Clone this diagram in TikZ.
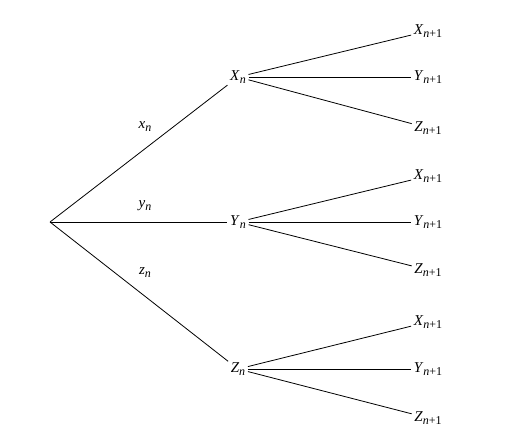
\documentclass[tikz,border=0pt]{standalone}
\usepackage{fontspec}
\setmainfont{Liberation Serif}
\newcommand\vsym[2]{\textit{#1}\raisebox{-3pt}{\fontsize{12}{14}\selectfont #2}}
\begin{document}
\begin{tikzpicture}[x=1pt,y=-1pt,
  lbl/.style={font=\fontsize{15}{17}\selectfont, inner sep=2.5pt},
  edge/.style={draw=black, line width=0.8pt}]
\useasboundingbox (0,0) rectangle (514,440);
\coordinate (r) at (50,222);
\node[lbl] (X) at (238,77) {\vsym{X}{\textit{n}}};
\node[lbl] (Y) at (238,222) {\vsym{Y}{\textit{n}}};
\node[lbl] (Z) at (238,369) {\vsym{Z}{\textit{n}}};
\node[lbl] (X1) at (428,31) {\vsym{X}{\textit{n}+1}};
\node[lbl] (Y1) at (428,77) {\vsym{Y}{\textit{n}+1}};
\node[lbl] (Z1) at (428,128) {\vsym{Z}{\textit{n}+1}};
\node[lbl] (X2) at (428,176) {\vsym{X}{\textit{n}+1}};
\node[lbl] (Y2) at (428,222) {\vsym{Y}{\textit{n}+1}};
\node[lbl] (Z2) at (428,270) {\vsym{Z}{\textit{n}+1}};
\node[lbl] (X3) at (428,322) {\vsym{X}{\textit{n}+1}};
\node[lbl] (Y3) at (428,369) {\vsym{Y}{\textit{n}+1}};
\node[lbl] (Z3) at (428,418) {\vsym{Z}{\textit{n}+1}};
\node[lbl] (lx) at (145,127) {\vsym{x}{\textit{n}}};
\node[lbl] (ly) at (145,206) {\vsym{y}{\textit{n}}};
\node[lbl] (lz) at (145,273) {\vsym{z}{\textit{n}}};
\draw[edge] (r) -- (X);
\draw[edge] (r) -- (Y);
\draw[edge] (r) -- (Z);
\foreach \p/\a/\b/\c in {X/X1/Y1/Z1, Y/X2/Y2/Z2, Z/X3/Y3/Z3}{
  \draw[edge] (\p) -- (\a);
  \draw[edge] (\p) -- (\b);
  \draw[edge] (\p) -- (\c);
}
\end{tikzpicture}
\end{document}
